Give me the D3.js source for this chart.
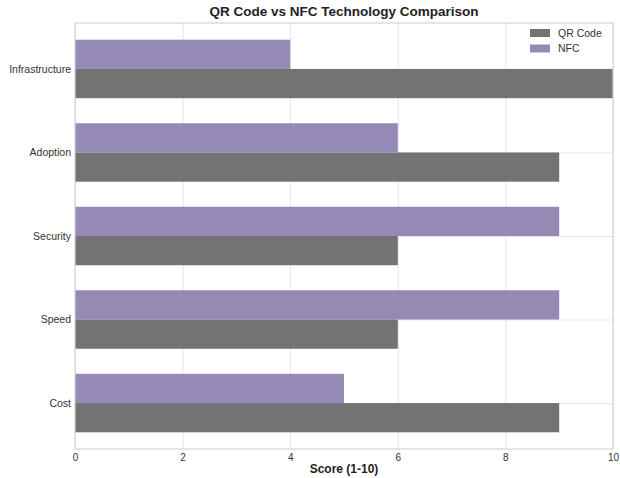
<html>
<head>
    <script src="https://cdn.jsdelivr.net/npm/d3@7"></script>
    <style>
        body { margin: 0; background: #fff; }
        text { font-family: "Liberation Sans", Arial, sans-serif; }
        .gridlines line { stroke: #e6e6e6; }
        .gridlines .domain { stroke: none; }
        .axis .domain { stroke: none; }
        .axis line { stroke: none; }
        .axis text { fill: #333; font-size: 10px; }
        .axis.y text { font-size: 10.5px; }
    </style>
</head>
<body>
    <svg width="620" height="478" id="chart"></svg>
    <script>
        const categories = ["Cost", "Speed", "Security", "Adoption", "Infrastructure"];
        const qrCode = [9, 6, 6, 9, 10];
        const nfc = [5, 9, 9, 6, 4];
        const xTicks = [0, 2, 4, 6, 8, 10];

        const margin = { top: 23, right: 7, bottom: 29, left: 75 };
        const svg = d3.select("#chart");
        const width = +svg.attr("width");
        const height = +svg.attr("height");
        const chartWidth = width - margin.left - margin.right;
        const chartHeight = height - margin.top - margin.bottom;

        const xScale = d3.scaleLinear().domain([0, 10]).range([0, chartWidth]);
        // category index -> y, index 0 at bottom
        const yScale = d3.scaleLinear().domain([-0.55, categories.length - 1 + 0.55]).range([chartHeight, 0]);
        const barH = 0.35;

        const chart = svg.append("g").attr("transform", `translate(${margin.left}, ${margin.top})`);

        // gridlines
        chart.append("g").attr("class", "gridlines")
            .call(d3.axisBottom(xScale).tickValues(xTicks).tickSize(chartHeight).tickFormat(""));
        chart.append("g").attr("class", "gridlines")
            .call(d3.axisLeft(yScale).tickValues(d3.range(categories.length)).tickSize(-chartWidth).tickFormat(""));

        // bars
        chart.selectAll(".qr").data(qrCode).join("rect")
            .attr("class", "qr")
            .attr("x", xScale(0))
            .attr("y", (d, i) => yScale(i))
            .attr("width", d => xScale(d) - xScale(0))
            .attr("height", yScale(0) - yScale(barH))
            .attr("fill", "#646464")
            .attr("fill-opacity", 0.9);

        chart.selectAll(".nfc").data(nfc).join("rect")
            .attr("class", "nfc")
            .attr("x", xScale(0))
            .attr("y", (d, i) => yScale(i + barH))
            .attr("width", d => xScale(d) - xScale(0))
            .attr("height", yScale(0) - yScale(barH))
            .attr("fill", "#8a7dad")
            .attr("fill-opacity", 0.9);

        // frame
        chart.append("rect")
            .attr("width", chartWidth).attr("height", chartHeight)
            .attr("fill", "none").attr("stroke", "#d4d4d4").attr("stroke-width", 1.2);

        // axes
        chart.append("g").attr("class", "axis")
            .attr("transform", `translate(0, ${chartHeight})`)
            .call(d3.axisBottom(xScale).tickValues(xTicks).tickSize(0).tickPadding(5));
        chart.append("g").attr("class", "axis y")
            .call(d3.axisLeft(yScale).tickValues(d3.range(categories.length)).tickSize(0).tickPadding(4)
                .tickFormat(i => categories[i]));

        // labels
        svg.append("text").attr("x", margin.left + chartWidth / 2).attr("y", 16)
            .attr("text-anchor", "middle").style("font-size", "13.5px").style("font-weight", "bold")
            .attr("fill", "#222").text("QR Code vs NFC Technology Comparison");
        svg.append("text").attr("x", margin.left + chartWidth / 2).attr("y", 473)
            .attr("text-anchor", "middle").style("font-size", "12px").style("font-weight", "bold")
            .attr("fill", "#222").text("Score (1-10)");

        // legend
        const legendItems = [
            { label: "QR Code", color: "#646464" },
            { label: "NFC", color: "#8a7dad" }
        ];
        const legend = svg.append("g").attr("transform", "translate(530, 29)");
        const li = legend.selectAll("g").data(legendItems).join("g")
            .attr("transform", (d, i) => `translate(0, ${i * 15.5})`);
        li.append("rect").attr("width", 20).attr("height", 8)
            .attr("fill", d => d.color).attr("fill-opacity", 0.9);
        li.append("text").attr("x", 28).attr("y", 4).attr("dy", "0.35em")
            .style("font-size", "10.5px").attr("fill", "#333").text(d => d.label);
    </script>
</body>
</html>
